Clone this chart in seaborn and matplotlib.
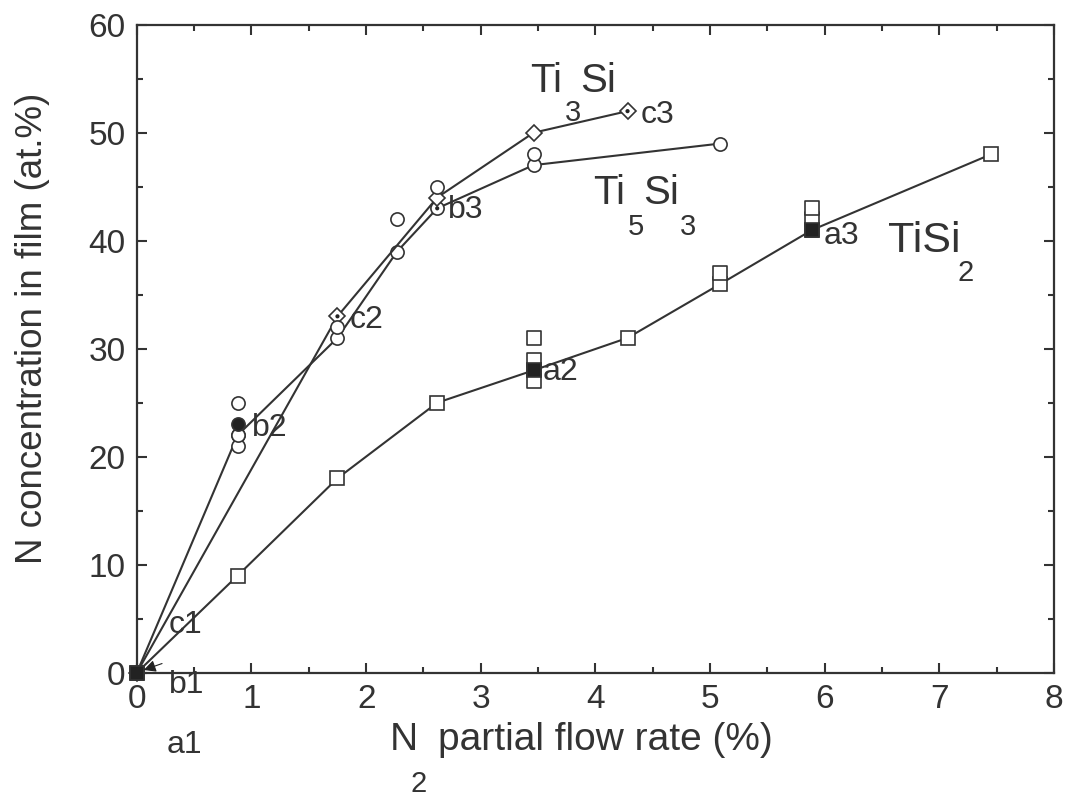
import numpy as np
import pandas as pd
import matplotlib
matplotlib.use("Agg")
import matplotlib.pyplot as plt
import seaborn as sns
from matplotlib.ticker import MultipleLocator

# ---- data ----
# TiSi2 series (squares), connected points
tisi2_x = [0, 0.88, 1.75, 2.62, 3.46, 4.28, 5.09, 5.89, 7.45]
tisi2_y = [0, 9, 18, 25, 28, 31, 36, 41, 48]
# TiSi2 extra (unconnected) measurements
tisi2_ex_x = [3.46, 3.46, 3.46, 5.09, 5.89, 5.89]
tisi2_ex_y = [27, 29, 31, 37, 42, 43]
# TiSi2 filled (a2, a3)
tisi2_f_x = [3.46, 5.89]
tisi2_f_y = [28, 41]

# Ti5Si3 series (circles)
ti5si3_x = [0, 0.88, 1.75, 2.27, 2.62, 3.46, 5.09]
ti5si3_y = [0, 22, 31, 39, 43, 47, 49]
ti5si3_ex_x = [0.88, 0.88, 0.88, 1.75, 2.27, 2.62, 3.46]
ti5si3_ex_y = [25, 21, 22, 32, 42, 45, 48]
ti5si3_f_x = [0.88]
ti5si3_f_y = [23]

# Ti3Si series (diamonds)
ti3si_x = [0, 1.75, 2.62, 3.46, 4.28]
ti3si_y = [0, 33, 44, 50, 52]

# dotted markers (b3, c2, c3)
dot_x = [2.62, 1.75, 4.28]
dot_y = [43, 33, 52]

# point labels
pt_labels = ["a1", "b1", "c1", "a2", "b2", "c2", "a3", "b3", "c3"]
pt_lab_x = [0.26, 0.28, 0.28, 3.54, 1.0, 1.86, 5.99, 2.71, 4.39]
pt_lab_y = [-6.7, -1.1, 4.4, 27.8, 22.7, 32.7, 40.4, 42.8, 51.6]

xticks = [0, 1, 2, 3, 4, 5, 6, 7, 8]
yticks = [0, 10, 20, 30, 40, 50, 60]

# ---- style ----
sns.set_style("ticks")
plt.rcParams['font.family'] = ['Liberation Sans', 'DejaVu Sans']
TXT = "#333333"
LC = "#333333"
plt.rcParams['text.color'] = TXT
plt.rcParams['axes.labelcolor'] = TXT
plt.rcParams['xtick.color'] = TXT
plt.rcParams['ytick.color'] = TXT
plt.rcParams['axes.edgecolor'] = LC

fig = plt.figure(figsize=(10.69, 7.98), dpi=100)
ax = fig.add_axes([0.128, 0.157, 0.858, 0.812])

lw = 1.5
ms = 9.5
mew = 1.2

common = dict(color=LC, linewidth=lw, markersize=ms, markerfacecolor="white",
              markeredgecolor=LC, markeredgewidth=mew, sort=False, estimator=None,
              ax=ax, clip_on=False, zorder=3)
sns.lineplot(x=tisi2_x, y=tisi2_y, marker="s", **common)
sns.lineplot(x=ti5si3_x, y=ti5si3_y, marker="o", **common)
sns.lineplot(x=ti3si_x, y=ti3si_y, marker="D", **{**common, "markersize": 8.5})

sc = dict(s=ms**2, facecolor="white", edgecolor=LC, linewidth=mew, ax=ax, zorder=4, clip_on=False)
sns.scatterplot(x=tisi2_ex_x, y=tisi2_ex_y, marker="s", **sc)
sns.scatterplot(x=ti5si3_ex_x, y=ti5si3_ex_y, marker="o", **sc)
sns.scatterplot(x=tisi2_f_x, y=tisi2_f_y, marker="s", s=ms**2, color="#222222",
                edgecolor=LC, linewidth=mew, ax=ax, zorder=5)
sns.scatterplot(x=ti5si3_f_x, y=ti5si3_f_y, marker="o", s=ms**2, color="#222222",
                edgecolor=LC, linewidth=mew, ax=ax, zorder=5)
# central dots for dotted markers
sns.scatterplot(x=dot_x, y=dot_y, marker="o", s=9, color="#222222", edgecolor="none",
                ax=ax, zorder=6)
# origin filled square
sns.scatterplot(x=[0], y=[0], marker="s", s=ms**2, color="#222222", edgecolor=LC,
                linewidth=mew, ax=ax, zorder=6, clip_on=False)
# small wedge near origin
ax.annotate("", xy=(0.06, 0.25), xytext=(0.22, 0.85),
            arrowprops=dict(arrowstyle="-|>", color="#222222", lw=0.8,
                            mutation_scale=18, shrinkA=0, shrinkB=0), zorder=6)

# point labels
for t, x, y in zip(pt_labels, pt_lab_x, pt_lab_y):
    ax.text(x, y, t, fontsize=23, ha="left", va="center", color=TXT,
            clip_on=False, zorder=7)

# phase labels
big = 29
small = 21
ax.text(3.43, 54.8, "Ti", fontsize=big, ha="left", va="center")
ax.text(3.87, 54.8, "Si", fontsize=big, ha="left", va="center")
ax.text(3.80, 51.8, "3", fontsize=small, ha="center", va="center")

ax.text(3.98, 44.4, "Ti", fontsize=big, ha="left", va="center")
ax.text(4.42, 44.4, "Si", fontsize=big, ha="left", va="center")
ax.text(4.35, 41.3, "5", fontsize=small, ha="center", va="center")
ax.text(4.81, 41.3, "3", fontsize=small, ha="center", va="center")

ax.text(6.55, 40.0, "TiSi", fontsize=31, ha="left", va="center")
ax.text(7.23, 37.0, "2", fontsize=small, ha="center", va="center")

# axes
ax.set_xlim(0, 8)
ax.set_ylim(0, 60)
ax.set_xticks(xticks)
ax.set_yticks(yticks)
ax.set_xticklabels([str(v) for v in xticks])
ax.set_yticklabels([str(v) for v in yticks])
ax.xaxis.set_minor_locator(MultipleLocator(0.5))
ax.yaxis.set_minor_locator(MultipleLocator(5))
ax.tick_params(which="both", direction="in", top=True, right=True, width=1.5, colors=LC,
               labelcolor=TXT)
ax.tick_params(which="major", length=7, labelsize=24, pad=8)
ax.tick_params(which="minor", length=4)
for s in ax.spines.values():
    s.set_linewidth(1.6)
    s.set_color(LC)

ax.set_ylabel("N concentration in film (at.%)", fontsize=26.5)
ax.yaxis.set_label_coords(-0.095, 0.532)
fig.text(0.365, 0.073, "N", fontsize=28, ha="left", va="center")
fig.text(0.392, 0.018, "2", fontsize=21, ha="center", va="center")
fig.text(0.410, 0.073, "partial flow rate (%)", fontsize=28, ha="left", va="center")

fig.savefig("out.png", dpi=100)
